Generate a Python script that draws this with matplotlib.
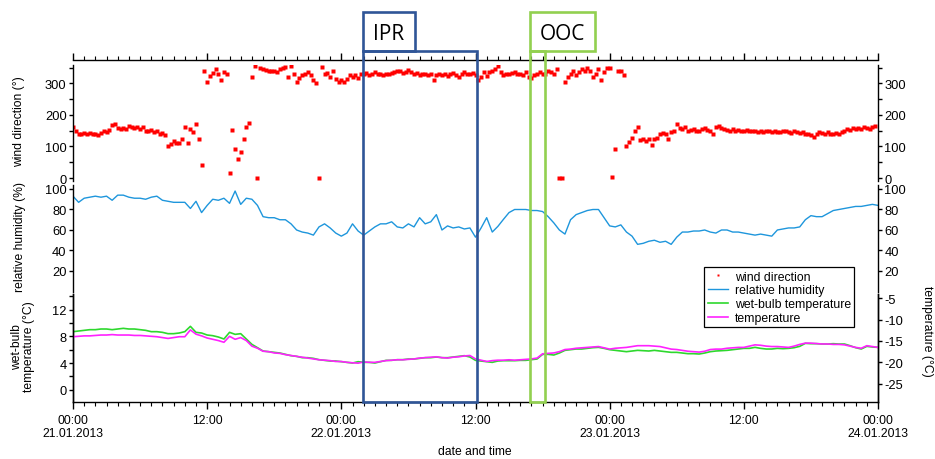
import numpy as np
import matplotlib
matplotlib.use('Agg')
import matplotlib.pyplot as plt
from matplotlib.patches import Rectangle
from matplotlib.lines import Line2D
import matplotlib.transforms as mtransforms
from matplotlib.ticker import FixedLocator, MultipleLocator

# ---------------- data ----------------
# hours since 21.01.2013 00:00
wind_step_h = 0.25
wind_dir = [
    160, 148, 140, 138,  141, 140, 142, 139,  140, 137, 142, 148,  145, 152, 168, 172,
    158, 155, 157, 155,  165, 162, 158, 160,  155, 162, 150, 148,  152, 145, 148, 140,
    143, 135, 102, 108,  118, 112, 110, 125,  160, 110, 155, 145,  170, 125, 40, 340,
    305, 323, 332, 345,  328, 312, 335, 330,  15, 152, 92, 60,     82, 125, 160, 175,
    320, 355, 0, 348,    345, 342, 340, 338,  340, 336, 345, 348,  352, 320, 355, 330,
    305, 318, 325, 330,  335, 325, 310, 300,  0, 352, 330, 332,    320, 338, 315, 305,
    310, 305, 315, 325,  320, 325, 318, 330,  328, 332, 325, 330,  335, 328, 330, 325,
    330, 328, 332, 335,  340, 338, 332, 335,  342, 335, 330, 332,  325, 330, 328, 325,
    330, 310, 325, 328,  325, 330, 322, 328,  332, 325, 320, 330,  335, 328, 330, 332,
    325, 312, 320, 335,  322, 335, 340, 345,  355, 335, 325, 330,  328, 332, 335, 330,
    328, 325, 335, 320,  318, 325, 330, 335,  330, 328, 340, 335,  330, 345, 0, 0,
    305, 320, 330, 340,  325, 335, 345, 338,  350, 340, 320, 330,  345, 310, 335, 350,
    350, 3, 92, 340,     338, 325, 100, 113,  128, 150, 160, 120,  125, 118, 122, 103,
    122, 128, 140, 142,  138, 125, 145, 150,  170, 158, 155, 160,  150, 152, 155, 148,
    150, 155, 158, 152,  150, 140, 160, 165,  158, 155, 152, 150,  155, 150, 152, 150,
    148, 152, 150, 148,  150, 147, 150, 145,  148, 150, 145, 148,  145, 146, 150, 148,
    145, 142, 148, 146,  143, 145, 140, 138,  135, 130, 140, 145,  142, 138, 145, 140,
    138, 142, 140, 145,  150, 155, 152, 158,  155, 158, 155, 160,  158, 155, 162, 165,
]

series_step_h = 0.5
rel_hum = [
    93, 87, 91, 92, 93, 92, 93, 89, 94, 94, 92, 91, 91, 90, 92, 93, 89, 88, 87, 87,
    87, 81, 88, 77, 84, 90, 89, 91, 86, 98, 85, 91, 90, 84, 73, 72, 72, 70, 70, 66,
    60, 58, 57, 55, 63, 66, 62, 57, 54, 57, 66, 59, 55, 59, 63, 66, 66, 68, 63, 62,
    66, 63, 72, 66, 68, 75, 60, 64, 62, 63, 61, 62, 53, 62, 72, 58, 63.5, 70.4, 77, 80,
    80, 80, 79, 79, 78, 73, 67, 60, 56, 70, 75, 77, 79, 80, 80, 72, 64, 63, 65, 58,
    54, 46, 47, 49, 50, 48, 49, 46, 53, 58, 58, 59, 59, 60, 58, 57, 60, 60, 58, 58,
    57, 56, 55, 56, 55, 54, 60, 61, 62, 62, 63, 70, 74, 73, 73, 76, 79, 80, 81, 82,
    83, 83, 84, 85, 84,
]

wet_bulb = [
    8.7, 8.8, 8.9, 9.0, 9.0, 9.1, 9.1, 9.0, 9.1, 9.2, 9.1, 9.1, 9.0, 8.9, 8.7, 8.7,
    8.6, 8.4, 8.4, 8.5, 8.7, 9.5, 8.6, 8.5, 8.2, 8.1, 7.9, 7.6, 8.6, 8.3, 8.4, 7.6,
    6.8, 6.3, 5.8, 5.7, 5.6, 5.5, 5.3, 5.1, 5.0, 4.8, 4.8, 4.7, 4.5, 4.4, 4.3, 4.3,
    4.2, 4.1, 4.0, 4.2, 4.1, 4.1, 4.0, 4.2, 4.4, 4.4, 4.5, 4.5, 4.6, 4.6, 4.7, 4.8,
    4.8, 4.9, 4.8, 4.8, 4.9, 5.0, 5.1, 4.9, 4.4, 4.3, 4.2, 4.1, 4.3, 4.35, 4.35, 4.35,
    4.4, 4.4, 4.5, 4.6, 5.3, 5.3, 5.2, 5.5, 5.9, 6.0, 6.1, 6.1, 6.2, 6.3, 6.35, 6.2,
    6.0, 5.9, 5.8, 5.7, 5.8, 5.9, 5.85, 5.8, 5.9, 5.8, 5.7, 5.6, 5.6, 5.5, 5.4, 5.4,
    5.35, 5.5, 5.7, 5.8, 5.85, 5.9, 6.0, 6.1, 6.2, 6.2, 6.35, 6.2, 6.1, 6.1, 6.2, 6.15,
    6.2, 6.3, 6.5, 6.95, 6.9, 6.9, 6.85, 6.85, 6.9, 6.85, 6.85, 6.6, 6.3, 6.1, 6.5, 6.4,
    6.35,
]

temperature = [
    -14.0, -13.9, -13.8, -13.8, -13.7, -13.6, -13.6, -13.5, -13.6, -13.6, -13.6, -13.7,
    -13.7, -13.8, -13.9, -14.0, -14.2, -14.4, -14.2, -14.0, -14.0, -12.4, -13.4, -13.8,
    -14.3, -14.6, -14.9, -15.3, -13.9, -14.6, -14.2, -14.9, -16.2, -16.7, -17.4, -17.5,
    -17.8, -17.9, -18.2, -18.4, -18.6, -18.8, -19.0, -19.2, -19.4, -19.5, -19.6, -19.8,
    -19.8, -20.0, -20.1, -20.2, -19.9, -20.0, -20.0, -19.8, -19.6, -19.5, -19.4, -19.4,
    -19.3, -19.2, -19.0, -18.9, -18.8, -18.7, -18.9, -19.0, -18.8, -18.7, -18.5, -18.4,
    -19.2, -19.5, -19.8, -19.6, -19.5, -19.5, -19.4, -19.5, -19.4, -19.3, -19.2, -19.0,
    -18.0, -17.9, -17.8, -17.5, -17.0, -16.9, -16.7, -16.6, -16.5, -16.4, -16.3, -16.6,
    -16.9, -16.7, -16.6, -16.5, -16.3, -16.1, -16.1, -16.1, -16.2, -16.3, -16.6, -16.9,
    -17.0, -17.2, -17.4, -17.5, -17.6, -17.4, -17.0, -16.9, -16.9, -16.7, -16.6, -16.5,
    -16.5, -16.2, -15.9, -16.0, -16.2, -16.3, -16.3, -16.4, -16.5, -16.2, -15.8, -15.5,
    -15.5, -15.6, -15.7, -15.7, -15.8, -15.8, -15.9, -16.2, -16.5, -16.7, -16.1, -16.3,
    -16.5,
]

x_tick_hours = [0, 12, 24, 36, 48, 60, 72]
x_tick_labels = ["00:00\n21.01.2013", "12:00", "00:00\n22.01.2013", "12:00",
                 "00:00\n23.01.2013", "12:00", "00:00\n24.01.2013"]

ipr_start, ipr_end = 25.91, 36.11
ooc_start, ooc_end = 40.87, 42.19

wind_t = np.arange(len(wind_dir)) * wind_step_h
ser_t = np.arange(len(rel_hum)) * series_step_h

# ---------------- style ----------------
plt.rcParams['font.family'] = ['Liberation Sans', 'DejaVu Sans']
plt.rcParams['font.size'] = 8.7
plt.rcParams['axes.unicode_minus'] = False
YT_SIZE = 9.3

C_WIND = '#ff0000'
C_RH = '#1e96dc'
C_WB = '#2ed82e'
C_T = '#ff22ff'
C_IPR = '#2f5597'
C_OOC = '#92d050'

W, H = 935, 460
fig = plt.figure(figsize=(9.35, 4.6), dpi=100)

def fx(px):
    return px / W

def fy(py):
    return 1 - py / H

L, R = 73, 878
ax1 = fig.add_axes([fx(L), fy(182), fx(R - L), (182 - 66) / H])
ax2 = fig.add_axes([fx(L), fy(293), fx(R - L), (293 - 186) / H])
ax3 = fig.add_axes([fx(L), fy(403.3), fx(R - L), (403.3 - 295) / H])
ax3r = ax3.twinx()

for a in (ax1, ax2, ax3, ax3r):
    a.set_facecolor('none')
    a.set_xlim(0, 72)
    for s in a.spines.values():
        s.set_linewidth(1.0)
    a.spines['top'].set_visible(False)
    a.spines['bottom'].set_visible(False)

# top time axis (on ax1)
ax1.spines['top'].set_visible(True)
ax1.spines['top'].set_position(('outward', 3.8))
ax1.xaxis.set_ticks_position('top')
ax1.xaxis.set_major_locator(FixedLocator(x_tick_hours))
ax1.xaxis.set_minor_locator(MultipleLocator(1))
ax1.tick_params(axis='x', which='major', direction='out', length=5.2, width=1.0,
                top=True, bottom=False, labeltop=False, labelbottom=False)
ax1.tick_params(axis='x', which='minor', direction='out', length=2.6, width=0.8,
                top=True, bottom=False)

# bottom time axis (on ax3)
ax3.spines['bottom'].set_visible(True)
ax3.xaxis.set_major_locator(FixedLocator(x_tick_hours))
ax3.set_xticklabels(x_tick_labels)
ax3.xaxis.set_minor_locator(MultipleLocator(1))
ax3.tick_params(axis='x', which='major', direction='out', length=5.2, width=1.0, pad=3)
ax3.tick_params(axis='x', which='minor', direction='out', length=2.6, width=0.8)
ax3r.tick_params(axis='x', which='both', bottom=False, top=False, labelbottom=False)
ax2.tick_params(axis='x', which='both', bottom=False, top=False, labelbottom=False)

# panel 1: wind direction
ax1.plot(wind_t, wind_dir, ls='none', marker='s', ms=2.4, mfc=C_WIND, mec='none')
ax1.set_ylim(-9.5, 358)
ax1.yaxis.set_major_locator(FixedLocator([0, 100, 200, 300]))
ax1.yaxis.set_minor_locator(FixedLocator([50, 150, 250, 350]))
ax1.tick_params(axis='y', which='both', direction='out', length=3.1, width=1.0,
                left=True, right=True, labelleft=True, labelright=True, pad=1.5,
                labelsize=YT_SIZE)

# panel 2: relative humidity
ax2.plot(ser_t, rel_hum, color=C_RH, lw=1.0)
ax2.set_ylim(-0.5, 103.9)
ax2.yaxis.set_major_locator(FixedLocator([20, 40, 60, 80, 100]))
ax2.tick_params(axis='y', which='both', direction='out', length=3.1, width=1.0,
                left=True, right=True, labelleft=True, labelright=True, pad=1.5,
                labelsize=YT_SIZE)

# panel 3: wet-bulb (left) and temperature (right)
ax3.plot(ser_t, wet_bulb, color=C_WB, lw=1.2)
ax3.set_ylim(-1.89, 14.35)
ax3.yaxis.set_major_locator(FixedLocator([0, 4, 8, 12]))
ax3.yaxis.set_minor_locator(FixedLocator([2, 6, 10, 14]))
ax3.tick_params(axis='y', which='both', direction='out', length=3.1, width=1.0,
                left=True, right=False, pad=1.5, labelsize=YT_SIZE)
ax3r.plot(ser_t, temperature, color=C_T, lw=1.2)
ax3r.set_ylim(-29.36, -3.99)
ax3r.yaxis.set_major_locator(FixedLocator([-25, -20, -15, -10, -5]))
ax3r.tick_params(axis='y', which='both', direction='out', length=3.1, width=1.0, pad=1.5,
                 labelsize=YT_SIZE)

# axis titles
fig.text(fx(19), fy(122), 'wind direction (°)', rotation=90, ha='center', va='center')
fig.text(fx(20), fy(237), 'relative humidity (%)', rotation=90, ha='center', va='center')
fig.text(fx(23), fy(347), 'wet-bulb\ntemperature (°C)', rotation=90, ha='center',
         va='center', multialignment='center', linespacing=1.1)
fig.text(fx(927), fy(331), 'temperature (°C)', rotation=270, ha='center', va='center')
fig.text(fx(475), fy(452), 'date and time', ha='center', va='center')

# IPR / OOC boxes
trans = mtransforms.blended_transform_factory(ax3.transData, fig.transFigure)
y_bot, y_top, y_lab = fy(403.3), fy(51.7), fy(12.7)
for (t0, t1, lab_w, col, name) in [(ipr_start, ipr_end, 4.65, C_IPR, 'IPR'),
                                    (ooc_start, ooc_end, 5.84, C_OOC, 'OOC')]:
    fig.add_artist(Rectangle((t0, y_bot), t1 - t0, y_top - y_bot, transform=trans,
                             fill=False, ec=col, lw=1.9, clip_on=False, zorder=10))
    fig.add_artist(Rectangle((t0, y_top), lab_w, y_lab - y_top, transform=trans,
                             fill=False, ec=col, lw=1.9, clip_on=False, zorder=10))
    fig.text(t0 + lab_w / 2, fy(40), name, transform=trans, ha='center', va='baseline',
             fontsize=15, family=['Open Sans', 'DejaVu Sans'], zorder=11)

# legend
handles = [
    Line2D([], [], ls='none', marker='s', ms=2.0, mfc=C_WIND, mec='none'),
    Line2D([], [], color=C_RH, lw=1.0),
    Line2D([], [], color=C_WB, lw=1.2),
    Line2D([], [], color=C_T, lw=1.2),
]
labels = ['wind direction', 'relative humidity', 'wet-bulb temperature', 'temperature']
leg = fig.legend(handles, labels, loc='upper left', bbox_to_anchor=(fx(704), fy(268)),
                 frameon=True, fancybox=False, edgecolor='black', framealpha=1,
                 borderpad=0.3, labelspacing=0.14, handlelength=1.7, handletextpad=0.5,
                 borderaxespad=0, fontsize=8.8)
leg.get_frame().set_linewidth(0.9)
leg.set_zorder(20)

fig.savefig('out.png', dpi=100)
